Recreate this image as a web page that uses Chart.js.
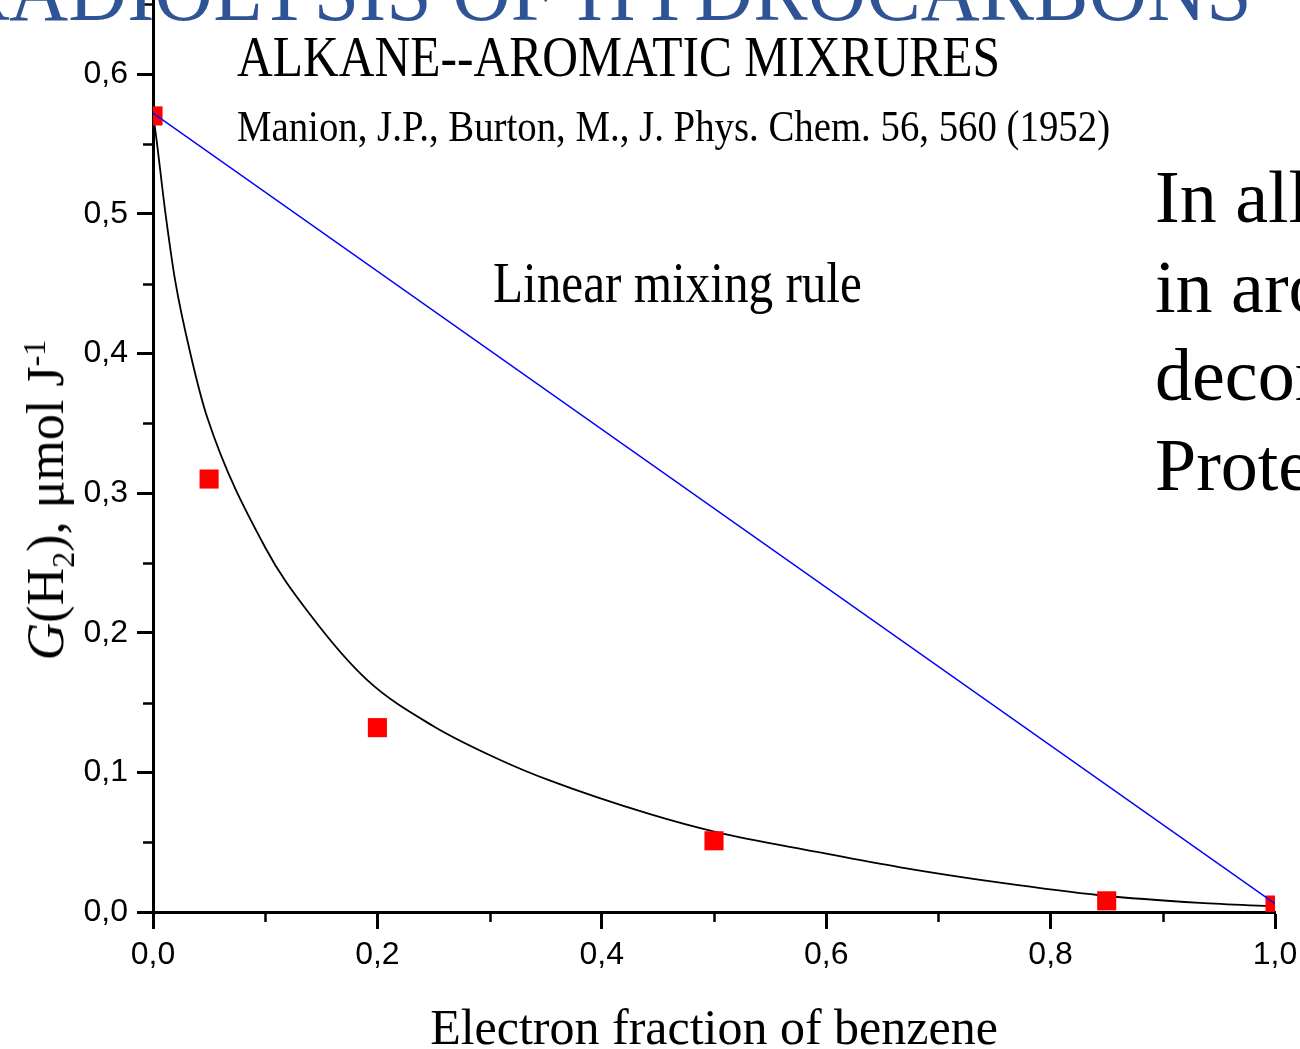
<!DOCTYPE html>
<html>
<head>
<meta charset="utf-8">
<script src="https://cdn.jsdelivr.net/npm/chart.js@4"></script>
<style>
html, body { margin: 0; padding: 0; background: #fff; }
#wrap { position: relative; width: 1300px; height: 1049px; overflow: hidden; }
#wrap canvas { position: absolute; left: 0; top: 0; }
.txt { position: absolute; white-space: nowrap; line-height: 1; font-family: "Liberation Serif", "Times New Roman", serif; color: #000; transform-origin: left top; }
#ytitle { left: 46px; top: 500px; font-size: 52px; transform: translate(-50%, -50%) rotate(-90deg); transform-origin: center center; }
#ytitle sub, #ytitle sup { font-size: 0.62em; line-height: 0; }
</style>
</head>
<body>
<div id="wrap">
  <canvas id="gh2"></canvas>
  <div class="txt" id="title" data-w="1297" style="right:48px; top:-52px; font-size:86px; color:#2f5496; transform-origin:right top;">RADIOLYSIS OF HYDROCARBONS</div>
  <div class="txt" data-w="763" style="left:237px; top:28px; font-size:58px;">ALKANE--AROMATIC MIXRURES</div>
  <div class="txt" data-w="873" style="left:237px; top:105px; font-size:44px;">Manion, J.P., Burton, M., J. Phys. Chem. 56, 560 (1952)</div>
  <div class="txt" data-w="369" style="left:493px; top:255px; font-size:56px;">Linear mixing rule</div>
  <div class="txt" style="left:1155px; top:160px; font-size:74px;">In all</div>
  <div class="txt" style="left:1155px; top:250px; font-size:74px;">in aromatic</div>
  <div class="txt" style="left:1155px; top:338px; font-size:74px;">decomposition</div>
  <div class="txt" style="left:1155px; top:428px; font-size:74px;">Protection</div>
  <div class="txt" id="ytitle"><i>G</i>(H<sub>2</sub>), μmol J<sup>-1</sup></div>
</div>
<script>
// measured G(H2) values
const pointX = [0, 0.05, 0.2, 0.5, 0.85, 1.0];
const pointY = [0.570, 0.310, 0.132, 0.051, 0.008, 0.005];

// fitted curve
const fitX = [0, 0.003, 0.011, 0.020, 0.033, 0.048, 0.100, 0.140, 0.191, 0.250, 0.309, 0.354, 0.443, 0.503, 0.592, 0.666, 0.755, 0.844, 0.933, 1.0];
const fitY = [0.572, 0.554, 0.501, 0.451, 0.401, 0.355, 0.261, 0.213, 0.166, 0.133, 0.109, 0.094, 0.070, 0.057, 0.043, 0.032, 0.021, 0.012, 0.0065, 0.004];

// linear mixing rule
const mixX = [0, 1.0];
const mixY = [0.572, 0.006];

// minor tick positions
const xMinor = [0.1, 0.3, 0.5, 0.7, 0.9];
const yMinor = [0.05, 0.15, 0.25, 0.35, 0.45, 0.55, 0.65];

function pts(xs, ys) {
  return xs.map((x, i) => ({ x: x, y: ys[i] }));
}

const fmt = v => v.toFixed(1).replace('.', ',');

const minorTicks = {
  id: 'minorTicks',
  afterDraw(chart) {
    const { ctx, chartArea, scales } = chart;
    ctx.save();
    ctx.strokeStyle = '#000';
    ctx.lineWidth = 2.5;
    ctx.beginPath();
    xMinor.forEach(v => {
      const px = Math.round(scales.x.getPixelForValue(v)) + 0.5;
      ctx.moveTo(px, chartArea.bottom);
      ctx.lineTo(px, chartArea.bottom + 10);
    });
    yMinor.forEach(v => {
      const py = Math.round(scales.y.getPixelForValue(v)) + 0.5;
      ctx.moveTo(chartArea.left, py);
      ctx.lineTo(chartArea.left - 10, py);
    });
    ctx.stroke();
    ctx.restore();
  }
};

const tickFont = { family: 'Liberation Sans', size: 32 };

const config = {
  type: 'scatter',
  data: {
    datasets: [{
      type: 'line',
      label: 'Linear mixing rule',
      data: pts(mixX, mixY),
      borderColor: 'rgb(0,0,255)',
      borderWidth: 1.5,
      pointRadius: 0,
      fill: false
    }, {
      label: 'G(H2)',
      data: pts(pointX, pointY),
      pointStyle: 'rect',
      pointRadius: 13.5,
      backgroundColor: 'rgb(255,0,0)',
      borderWidth: 0
    }, {
      type: 'line',
      label: 'fit',
      data: pts(fitX, fitY),
      borderColor: '#000',
      borderWidth: 1.8,
      pointRadius: 0,
      cubicInterpolationMode: 'monotone',
      fill: false
    }]
  },
  options: {
    responsive: true,
    maintainAspectRatio: false,
    animation: false,
    layout: { autoPadding: false, padding: { left: 0, right: 25, top: 0, bottom: 0 } },
    plugins: { legend: { display: false }, tooltip: { enabled: false } },
    scales: {
      x: {
        type: 'linear',
        position: 'bottom',
        min: 0,
        max: 1,
        grid: { drawOnChartArea: false, tickLength: 17, tickWidth: 3, tickColor: '#000' },
        border: { color: '#000', width: 3 },
        ticks: {
          stepSize: 0.2,
          includeBounds: false,
          autoSkip: false,
          maxRotation: 0,
          padding: 7,
          color: '#000',
          font: tickFont,
          callback: fmt
        },
        title: {
          display: true,
          text: 'Electron fraction of benzene',
          color: '#000',
          font: { family: 'Liberation Serif', size: 50, lineHeight: 1 },
          padding: { top: 0, bottom: -7 }
        },
        afterFit: s => { s.height = 137; s.paddingLeft = 0; s.paddingRight = 0; }
      },
      y: {
        type: 'linear',
        min: 0,
        max: 0.653,
        grid: { drawOnChartArea: false, tickLength: 16, tickWidth: 3, tickColor: '#000' },
        border: { color: '#000', width: 3 },
        ticks: {
          stepSize: 0.1,
          includeBounds: false,
          autoSkip: false,
          padding: 9,
          color: '#000',
          font: tickFont,
          callback: fmt
        },
        afterFit: s => { s.width = 153; s.paddingTop = 0; s.paddingBottom = 0; }
      }
    }
  },
  plugins: [minorTicks]
};

new Chart(document.getElementById('gh2'), config);

// squeeze the slide texts to the widths they have in the picture
document.querySelectorAll('[data-w]').forEach(el => {
  const k = el.dataset.w / el.offsetWidth;
  el.style.transform = 'scaleX(' + k + ')';
});
</script>
</body>
</html>
